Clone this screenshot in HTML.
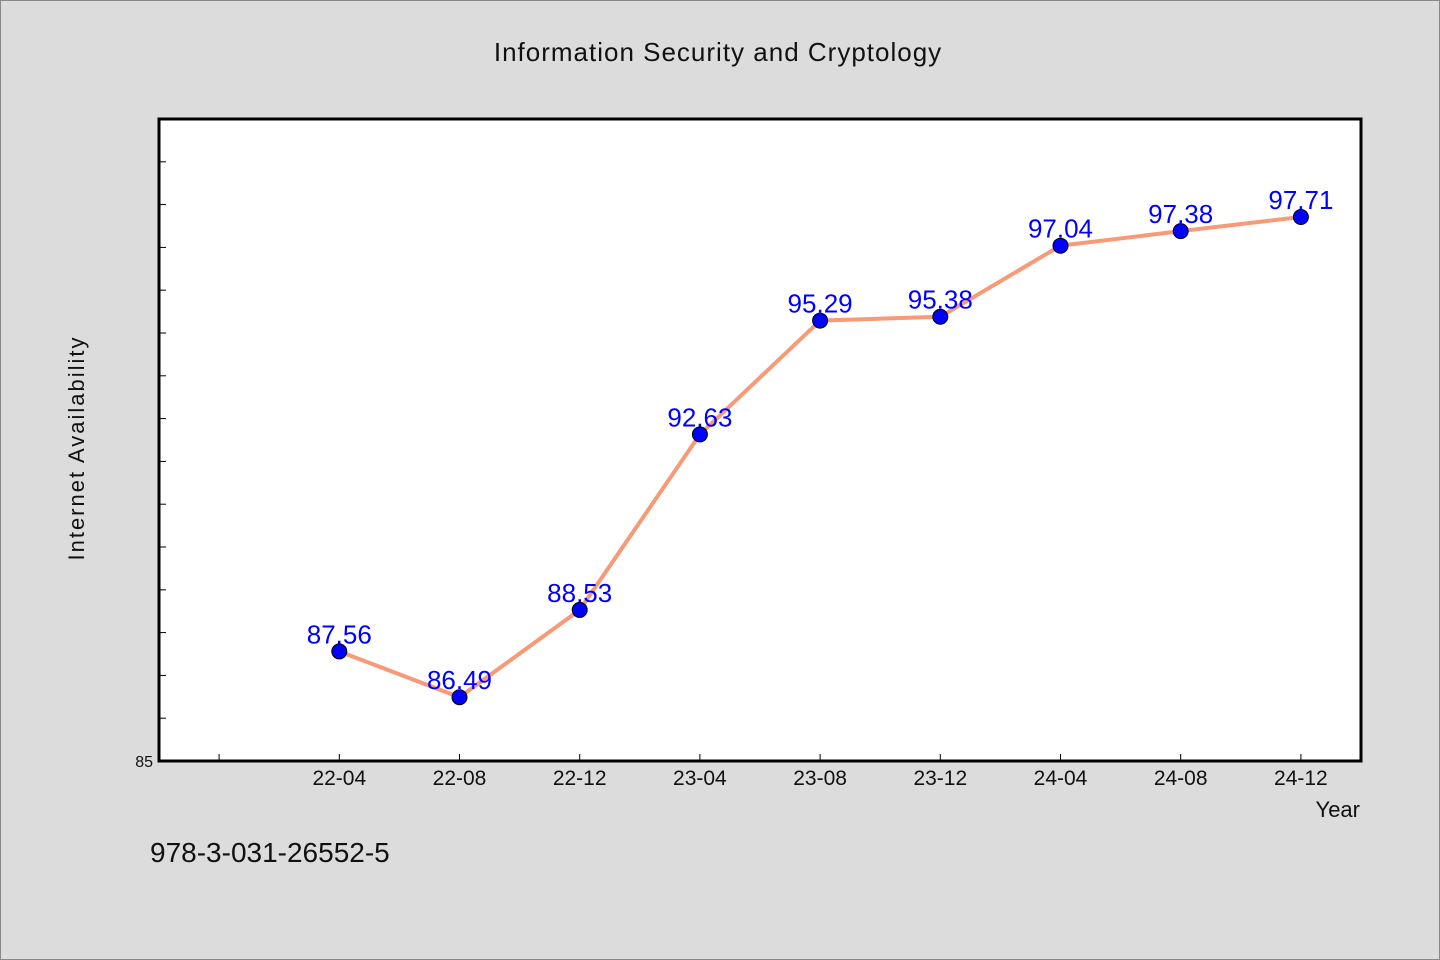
<!DOCTYPE html>
<html><head><meta charset="utf-8"><style>
body{margin:0;background:#dcdcdc;}
svg{display:block;font-family:"WenQuanYi Zen Hei","Liberation Sans",sans-serif;}
</style></head><body>
<svg width="1440" height="960">
<rect x="0.5" y="0.5" width="1439" height="959" fill="#dcdcdc" stroke="#888"/>
<text x="718" y="61" text-anchor="middle" font-size="26" fill="#111" letter-spacing="1">Information Security and Cryptology</text>
<rect x="159" y="119" width="1202" height="642" fill="#fff" stroke="#000" stroke-width="3"/>
<text transform="translate(84,448) rotate(-90)" text-anchor="middle" font-size="22" fill="#111" letter-spacing="2">Internet Availability</text>
<text x="1360" y="817" text-anchor="end" font-size="22" fill="#111">Year</text>
<text x="150" y="862" font-size="28" fill="#111">978-3-031-26552-5</text>
<g id="axes"></g>
<g id="marks"></g>
</svg>
<script>
const categories=["22-04","22-08","22-12","23-04","23-08","23-12","24-04","24-08","24-12"];
const values=[87.56,86.49,88.53,92.63,95.29,95.38,97.04,97.38,97.71];
const yTicks=[85,86,87,88,89,90,91,92,93,94,95,96,97,98,99];
const yTickLabels=["85"];
const NS="http://www.w3.org/2000/svg";
const L=159,R=1361,T=119,B=761,yMin=85,yMax=100;
function x(i){return L+(i+1.5)*(R-L)/10;}
function y(v){return B-(v-yMin)*(B-T)/(yMax-yMin);}
function mk(t,a,p){const e=document.createElementNS(NS,t);for(const k in a)e.setAttribute(k,a[k]);p.appendChild(e);return e;}
const ax=document.getElementById('axes'),mg=document.getElementById('marks');
yTicks.forEach(v=>{const t=mk('line',{x1:L,x2:L+7,y1:y(v),y2:y(v),stroke:'#000','stroke-width':1},ax);

});
yTickLabels.forEach(s=>{const t=mk('text',{x:L-6,y:y(+s)+6,'text-anchor':'end','font-size':16,fill:'#111'},ax);t.textContent=s;

});
for(let i=-1;i<categories.length;i++){const t=mk('line',{x1:x(i),x2:x(i),y1:B,y2:B-7,stroke:'#000','stroke-width':1},ax);

}
categories.forEach((c,i)=>{const t=mk('text',{x:x(i),y:B+24,'text-anchor':'middle','font-size':21,fill:'#111'},ax);t.textContent=c;

});
const pl=mk('polyline',{points:values.map((v,i)=>x(i)+','+y(v)).join(' '),fill:'none',stroke:'#f79a78','stroke-width':4},mg);


values.forEach((v,i)=>{const c=mk('circle',{cx:x(i),cy:y(v),r:7.5,fill:'#0000ff',stroke:'#000','stroke-width':1},mg);


const t=mk('text',{x:x(i),y:y(v)-8,'text-anchor':'middle','font-size':26,fill:'#0000ff'},mg);t.textContent=v.toFixed(2);

});
</script>
</body></html>
